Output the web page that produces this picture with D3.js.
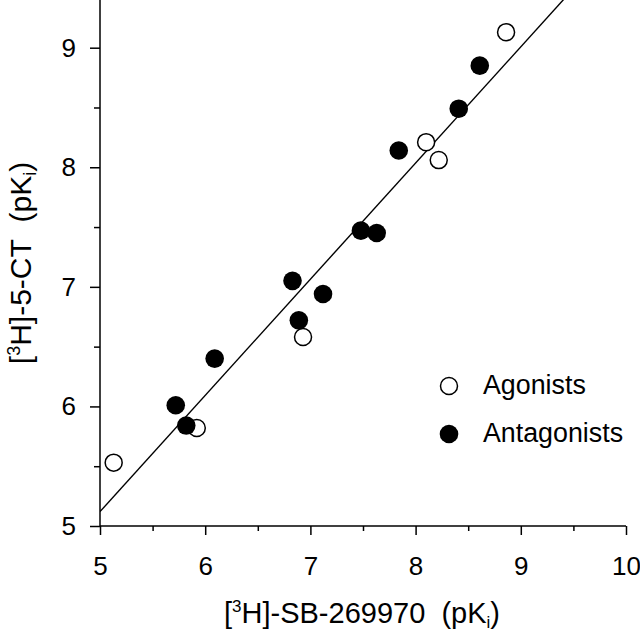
<!DOCTYPE html>
<html><head><meta charset="utf-8">
<script src="https://cdn.jsdelivr.net/npm/d3@7"></script>
<style>html,body{margin:0;padding:0;background:#fff;}svg{display:block;font-family:"Liberation Sans",Arial,sans-serif;}</style>
</head><body>
<script>
const agonistX = [5.13, 5.92, 6.93, 8.10, 8.22, 8.86];
const agonistY = [5.53, 5.82, 6.58, 8.21, 8.06, 9.13];
const antagonistX = [5.72, 5.82, 6.09, 6.83, 6.89, 7.12, 7.48, 7.63, 7.84, 8.41, 8.61];
const antagonistY = [6.01, 5.84, 6.40, 7.05, 6.72, 6.94, 7.47, 7.45, 8.14, 8.49, 8.85];
const fitX = [5, 9.45];
const fitY = [5.12, 9.445];
const xTicks = [5, 6, 7, 8, 9, 10];
const yTicks = [5, 6, 7, 8, 9];
const xMinor = [5.5, 6.5, 7.5, 8.5, 9.5];
const yMinor = [5.5, 6.5, 7.5, 8.5];
const legendLabels = ["Agonists", "Antagonists"];

const W = 640, H = 632;
const svg = d3.select("body").append("svg").attr("width", W).attr("height", H);
const x = d3.scaleLinear().domain([5, 10]).range([100, 626]);
const y = d3.scaleLinear().domain([5, 9]).range([526, 47.7]);

svg.append("clipPath").attr("id", "c").append("rect")
  .attr("x", 100).attr("y", 0).attr("width", 526).attr("height", 526);

// regression line
svg.append("line")
  .attr("clip-path", "url(#c)")
  .attr("x1", x(fitX[0])).attr("y1", y(fitY[0]))
  .attr("x2", x(fitX[1])).attr("y2", y(fitY[1]))
  .attr("stroke", "#000").attr("stroke-width", 1.4);

// axes
const xAxis = svg.append("g").attr("transform", "translate(0,526)");
xAxis.call(d3.axisBottom(x).tickValues(xTicks).tickSize(9).tickPadding(22).tickFormat(d3.format("d")));
const xMin = svg.append("g").attr("transform", "translate(0,526)");
xMin.call(d3.axisBottom(x).tickValues(xMinor).tickSize(5).tickFormat(""));

const yAxis = svg.append("g").attr("transform", "translate(100,0)");
yAxis.call(d3.axisLeft(y).tickValues(yTicks).tickSize(10).tickPadding(14).tickFormat(d3.format("d")));
const yMin = svg.append("g").attr("transform", "translate(100,0)");
yMin.call(d3.axisLeft(y).tickValues(yMinor).tickSize(6).tickFormat(""));

svg.selectAll(".domain").remove();
svg.append("line").attr("x1", 100).attr("x2", 626).attr("y1", 526).attr("y2", 526).attr("stroke", "#000").attr("stroke-width", 1.5);
svg.append("line").attr("x1", 100).attr("x2", 100).attr("y1", 0).attr("y2", 526).attr("stroke", "#000").attr("stroke-width", 1.5);

svg.selectAll(".tick line").attr("stroke", "#000").attr("stroke-width", 1.5);
svg.selectAll(".tick text").attr("fill", "#000").attr("font-size", 26).attr("font-family", "'Liberation Sans',Arial,sans-serif");

// points
svg.append("g").selectAll("circle").data(agonistX.map((v, i) => [v, agonistY[i]])).join("circle")
  .attr("cx", d => x(d[0])).attr("cy", d => y(d[1])).attr("r", 8.5)
  .attr("fill", "#fff").attr("stroke", "#000").attr("stroke-width", 1.5);
svg.append("g").selectAll("circle").data(antagonistX.map((v, i) => [v, antagonistY[i]])).join("circle")
  .attr("cx", d => x(d[0])).attr("cy", d => y(d[1])).attr("r", 9.3)
  .attr("fill", "#000");

// legend
const lg = svg.append("g");
lg.append("circle").attr("cx", 449).attr("cy", 386).attr("r", 8.5).attr("fill", "#fff").attr("stroke", "#000").attr("stroke-width", 1.5);
lg.append("circle").attr("cx", 449).attr("cy", 434).attr("r", 9.3).attr("fill", "#000");
lg.append("text").attr("x", 483).attr("y", 393.5).attr("font-size", 26.8).text(legendLabels[0]);
lg.append("text").attr("x", 483).attr("y", 442).attr("font-size", 26.8).text(legendLabels[1]);

// axis titles
const xt = svg.append("text").attr("x", 362).attr("y", 623).attr("text-anchor", "middle").attr("font-size", 29);
xt.append("tspan").text("[");
xt.append("tspan").attr("font-size", 17).attr("dy", -11).text("3");
xt.append("tspan").attr("dy", 11).text("H]-SB-269970\u00a0\u00a0(pK");
xt.append("tspan").attr("font-size", 17).attr("dy", 5).text("i");
xt.append("tspan").attr("dy", -5).text(")");

const yt = svg.append("text").attr("transform", "translate(31,263) rotate(-90)").attr("text-anchor", "middle").attr("font-size", 30);
yt.append("tspan").text("[");
yt.append("tspan").attr("font-size", 18).attr("dy", -11).text("3");
yt.append("tspan").attr("dy", 11).text("H]-5-CT\u00a0\u00a0(pK");
yt.append("tspan").attr("font-size", 18).attr("dy", 5).text("i");
yt.append("tspan").attr("dy", -5).text(")");
</script>
</body></html>
